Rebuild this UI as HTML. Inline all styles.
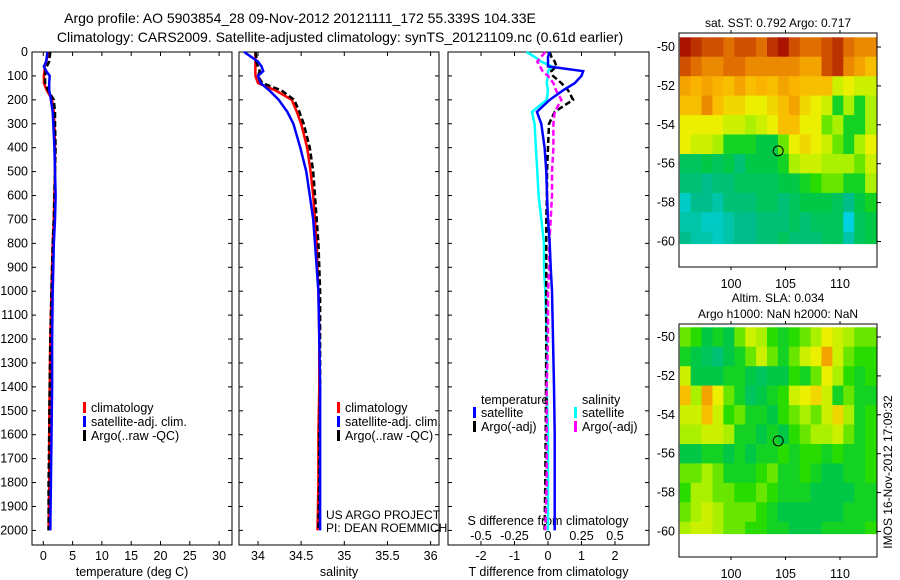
<!DOCTYPE html>
<html><head><meta charset="utf-8"><style>
html,body{margin:0;padding:0;background:#fff;}
svg{display:block;font-family:"Liberation Sans",sans-serif;}
</style></head><body>
<svg id="fig" width="900" height="580" viewBox="0 0 900 580">
<text x="300" y="23" font-size="14" text-anchor="middle">Argo profile: AO 5903854_28 09-Nov-2012 20121111_172 55.339S 104.33E</text>
<text x="340" y="42" font-size="14" text-anchor="middle">Climatology: CARS2009. Satellite-adjusted climatology: synTS_20121109.nc (0.61d earlier)</text>
<g id="g"></g>
</svg>
<script>
// ---- profile data (depth in m) ----
const tDepth = [0,20,40,60,80,100,130,160,200,250,300,400,500,600,700,800,900,1000,1200,1400,1600,1800,2000];
const tClim  = [0.8,0.7,0.5,0.2,0.2,0.1,0.1,0.6,1.5,1.8,1.9,2.0,2.0,1.9,1.8,1.6,1.5,1.4,1.2,1.1,1.0,1.0,0.9];
const tSat   = [0.7,0.6,0.5,0.1,0.5,1.1,1.0,1.0,1.3,1.6,1.7,1.9,2.0,2.1,2.0,1.8,1.7,1.6,1.5,1.5,1.4,1.3,1.2];
const tArgo  = [1.2,1.1,1.0,0.6,0.4,0.3,0.3,0.8,1.8,2.0,2.0,2.1,2.0,1.9,1.8,1.6,1.5,1.4,1.2,1.1,1.0,0.9,0.9];
const sClim  = [33.97,33.97,33.97,33.97,33.97,33.97,34.0,34.2,34.39,34.45,34.50,34.57,34.61,34.64,34.66,34.68,34.69,34.70,34.71,34.71,34.70,34.70,34.69];
const sSat   = [33.84,33.92,34.0,34.04,34.06,34.0,34.03,34.13,34.24,34.34,34.41,34.49,34.56,34.60,34.64,34.66,34.68,34.70,34.71,34.72,34.72,34.72,34.72];
const sArgo  = [33.97,33.98,33.98,34.0,34.02,34.0,34.05,34.27,34.42,34.48,34.53,34.60,34.64,34.66,34.68,34.70,34.71,34.72,34.72,34.72,34.71,34.71,34.70];
const dTSat  = [0.05,0.0,0.0,0.0,1.05,1.0,0.8,0.45,0.05,-0.33,-0.2,-0.1,-0.05,-0.03,0.0,0.05,0.08,0.12,0.15,0.18,0.2,0.2,0.2];
const dTArgo = [0.05,0.1,0.2,0.25,0.1,0.15,0.4,0.6,0.75,0.2,0.03,0.0,-0.03,-0.03,-0.05,-0.05,-0.05,-0.05,-0.05,-0.06,-0.07,-0.08,-0.1];
const dSSat  = [-0.16,-0.1,-0.05,0.03,0.0,0.0,-0.01,0.0,-0.01,-0.12,-0.1,-0.09,-0.08,-0.07,-0.05,-0.03,-0.03,-0.02,-0.01,-0.01,0.0,0.0,0.0];
const dSArgo = [-0.02,-0.05,-0.08,-0.06,-0.04,0.0,0.04,0.06,0.1,0.05,0.04,0.04,0.03,0.03,0.02,0.01,0.01,0.0,0.0,-0.01,-0.01,-0.01,-0.02];
const depthTicks = [0,100,200,300,400,500,600,700,800,900,1000,1100,1200,1300,1400,1500,1600,1700,1800,1900,2000];
const tempTicks = [0,5,10,15,20,25,30];
const salTicks = [34,34.5,35,35.5,36];
const dTTicks = [-2,-1,0,1,2];
const dSTicks = [-0.5,-0.25,0,0.25,0.5];
// ---- map data (rows -50..-60, cols 95.5..112.5), 0..1 colour scale ----
const sstGrid = [
[1.0,.95,.9,.9,.85,.9,.9,.85,.95,1.0,.9,.85,.85,.9,.95,.85,.8,.8],
[.9,.85,.8,.8,.85,.85,.8,.8,.8,.8,.8,.75,.75,.9,.95,.8,.75,.7],
[.75,.72,.75,.72,.7,.75,.7,.72,.7,.75,.72,.7,.7,.7,.55,.6,.55,.55],
[.7,.7,.8,.7,.65,.65,.6,.6,.65,.7,.75,.65,.6,.55,.35,.5,.35,.5],
[.6,.6,.6,.6,.55,.55,.5,.55,.6,.7,.7,.6,.6,.45,.5,.35,.35,.5],
[.6,.55,.55,.5,.35,.35,.35,.3,.3,.45,.6,.65,.6,.55,.45,.35,.5,.6],
[.25,.25,.3,.25,.3,.2,.3,.3,.3,.35,.5,.55,.55,.5,.5,.5,.45,.55],
[.2,.2,.15,.2,.2,.25,.25,.25,.25,.3,.3,.35,.4,.45,.45,.35,.35,.5],
[.05,.15,.15,.1,.2,.2,.2,.25,.25,.2,.25,.3,.3,.3,.25,.15,.3,.35],
[.1,.1,.05,.05,.1,.15,.15,.2,.2,.2,.25,.2,.25,.25,.25,.0,.25,.3],
[.15,.1,.1,.05,.1,.15,.15,.2,.2,.25,.2,.2,.2,.25,.25,.1,.25,.3]];
const slaGrid = [
[.45,.4,.3,.35,.3,.45,.55,.5,.4,.35,.4,.45,.5,.6,.55,.5,.45,.45],
[.35,.3,.25,.2,.3,.35,.45,.55,.45,.35,.45,.55,.6,.75,.55,.45,.4,.4],
[.55,.3,.3,.3,.35,.35,.3,.25,.3,.3,.4,.35,.45,.6,.5,.4,.35,.4],
[.7,.5,.75,.6,.45,.35,.25,.3,.35,.4,.55,.6,.65,.55,.35,.45,.35,.35],
[.55,.55,.7,.55,.4,.45,.35,.35,.3,.4,.45,.5,.45,.55,.65,.5,.35,.4],
[.5,.5,.55,.55,.5,.35,.35,.3,.35,.3,.4,.45,.5,.5,.55,.45,.35,.4],
[.3,.3,.35,.35,.3,.35,.3,.35,.35,.4,.35,.4,.4,.35,.4,.35,.35,.4],
[.45,.45,.5,.45,.35,.35,.35,.4,.45,.35,.35,.4,.35,.3,.3,.35,.35,.4],
[.4,.5,.5,.45,.45,.4,.4,.45,.4,.35,.35,.35,.3,.3,.3,.3,.35,.35],
[.45,.5,.55,.5,.45,.45,.45,.4,.35,.3,.3,.3,.3,.3,.3,.35,.35,.35],
[.5,.55,.55,.5,.45,.45,.4,.4,.35,.35,.3,.3,.3,.35,.35,.35,.35,.4]];
const mapLat = [-50,-51,-52,-53,-54,-55,-56,-57,-58,-59,-60];
const mapLon0 = 95.3, mapLonStep = 1.0;
const argoLon = 104.33, argoLat = -55.339;
const latTicks = [-50,-52,-54,-56,-58,-60];
const lonTicks = [100,105,110];

const NS="http://www.w3.org/2000/svg";
const G=document.getElementById('g');
function el(tag,attrs,parent,txt){const e=document.createElementNS(NS,tag);for(const k in attrs)e.setAttribute(k,attrs[k]);if(txt!==undefined)e.textContent=txt;(parent||G).appendChild(e);return e;}

const yTop=52, pxPer100=23.92, yBot=545;
function yD(d){return yTop+d/100*pxPer100;}

function panel(name,x0,x1,xf,ticks,tickFmt,title){
  const g=el('g',{});
  
  
  el('rect',{x:x0,y:yTop,width:x1-x0,height:yBot-yTop,fill:'#fff',stroke:'#000','stroke-width':1},g);
  depthTicks.forEach(d=>{const y=yD(d);
    el('line',{x1:x0,x2:x0+4,y1:y,y2:y,stroke:'#000'},g);
    el('line',{x1:x1,x2:x1-4,y1:y,y2:y,stroke:'#000'},g);});
  ticks.forEach(v=>{const x=xf(v);
    el('line',{x1:x,x2:x,y1:yBot,y2:yBot-4,stroke:'#000'},g);
    el('line',{x1:x,x2:x,y1:yTop,y2:yTop+4,stroke:'#000'},g);
    if(tickFmt){const t=el('text',{x:x,y:yBot+15,'font-size':12.5,'text-anchor':'middle'},g,tickFmt(v));
    
    }});
  if(title){const t=el('text',{x:(x0+x1)/2,y:576,'font-size':12.5,'text-anchor':'middle'},g,title);
  
  }
  return g;
}
function line(g,xs,ds,xf,color,w,dash,name){
  const pts=xs.map((v,i)=>xf(v).toFixed(1)+','+yD(ds[i]).toFixed(1)).join(' ');
  const p=el('polyline',{points:pts,fill:'none',stroke:color,'stroke-width':w},g);
  if(dash)p.setAttribute('stroke-dasharray',dash);
  
  
}
function legend(g,x,y,items){
  items.forEach((it,i)=>{
    const yy=y+i*14;
    el('rect',{x:x,y:yy-10,width:3,height:11,fill:it[1]},g);
    const t=el('text',{x:x+8,y:yy,'font-size':12.5},g,it[0]);
    
    
  });
}

depthTicks.forEach(d=>{const t=el('text',{x:28,y:yD(d)+4,'font-size':12.5,'text-anchor':'end'},G,String(d));

});

const xT=v=>43.3+v*5.86;
const p1=panel('temperature-panel',32,232,xT,tempTicks,v=>String(v),'temperature (deg C)');
line(p1,tClim,tDepth,xT,'#f00',2.5,null,'temp-climatology-line');
line(p1,tArgo,tDepth,xT,'#000',2.5,'6 3','temp-argo-line');
line(p1,tSat,tDepth,xT,'#00f',2.5,null,'temp-satellite-line');
legend(p1,83,412,[['climatology','#f00'],['satellite-adj. clim.','#00f'],['Argo(..raw -QC)','#000']]);

const xS=v=>258+(v-34)*86.3;
const p2=panel('salinity-panel',239,439,xS,salTicks,v=>String(v),'salinity');
line(p2,sClim,tDepth,xS,'#f00',2.5,null,'sal-climatology-line');
line(p2,sArgo,tDepth,xS,'#000',2.5,'6 3','sal-argo-line');
line(p2,sSat,tDepth,xS,'#00f',2.5,null,'sal-satellite-line');
legend(p2,337,412,[['climatology','#f00'],['satellite-adj. clim.','#00f'],['Argo(..raw -QC)','#000']]);
el('text',{x:326,y:519,'font-size':12},p2,'US ARGO PROJECT');
el('text',{x:326,y:532,'font-size':12},p2,'PI: DEAN ROEMMICH');

const xDT=v=>548+v*33.5;
const xDS=v=>548+v*134;
const p3=panel('difference-panel',448,649,xDT,dTTicks,v=>String(v),'T difference from climatology');
dSTicks.forEach(v=>{const t=el('text',{x:xDS(v),y:540,'font-size':12.5,'text-anchor':'middle'},p3,String(v));

});
el('text',{x:548,y:525,'font-size':12.5,'text-anchor':'middle'},p3,'S difference from climatology');
line(p3,dSSat,tDepth,xDS,'#0ff',2.5,null,'dsal-satellite-line');
line(p3,dTArgo,tDepth,xDT,'#000',2.5,'6 3','dtemp-argo-line');
line(p3,dSArgo,tDepth,xDS,'#f0f',2.5,'6 3','dsal-argo-line');
line(p3,dTSat,tDepth,xDT,'#00f',2.5,null,'dtemp-satellite-line');
el('text',{x:481,y:404,'font-size':12.5},p3,'temperature');
el('text',{x:582,y:404,'font-size':12.5},p3,'salinity');
legend(p3,473,417,[['satellite','#00f'],['Argo(-adj)','#000']]);
legend(p3,574,417,[['satellite','#0ff'],['Argo(-adj)','#f0f']]);

const cmStops=[[0,[0,210,225]],[0.15,[0,190,140]],[0.3,[0,200,70]],[0.4,[40,220,0]],[0.5,[170,240,0]],[0.6,[235,240,0]],[0.72,[250,180,0]],[0.85,[225,110,0]],[1,[170,20,0]]];
function cmap(v){for(let i=1;i<cmStops.length;i++){if(v<=cmStops[i][0]){const a=cmStops[i-1],b=cmStops[i];const f=(v-a[0])/(b[0]-a[0]);const c=a[1].map((x,k)=>Math.round(x+(b[1][k]-x)*f));return 'rgb('+c.join(',')+')';}}return 'rgb(170,20,0)';}

function mapPanel(name,top,bottom,latRef,grid,titles){
  const L=679,R=877;
  const xL=lon=>731+(lon-100)*10.9;
  const yL=lat=>latRef+(-50-lat)*19.45;
  const g=el('g',{});
  
  
  el('rect',{x:L,y:top,width:R-L,height:bottom-top,fill:'#fff'},g);
  grid.forEach((row,r)=>{row.forEach((v,c)=>{
    const lat=mapLat[r];
    const ya=Math.max(top,yL(lat+0.5)), yb=Math.min(yL(-60.1),yL(lat-0.5));
    const xa=xL(mapLon0+c*mapLonStep), xb=Math.min(R,xL(mapLon0+(c+1)*mapLonStep));
    const cell=el('rect',{x:xa.toFixed(1),y:ya.toFixed(1),width:(xb-xa+0.6).toFixed(1),height:(yb-ya+0.6).toFixed(1),fill:cmap(v)},g);
    
    
  });});
  el('rect',{x:L,y:top,width:R-L,height:bottom-top,fill:'none',stroke:'#000'},g);
  latTicks.forEach(la=>{const y=yL(la);
    el('line',{x1:R,x2:R+4,y1:y,y2:y,stroke:'#000'},g);
    const t=el('text',{x:L-4,y:y+4,'font-size':12.5,'text-anchor':'end'},g,String(la));
    
    });
  lonTicks.forEach(lo=>{const x=xL(lo);
    el('line',{x1:x,x2:x,y1:bottom,y2:bottom+3,stroke:'#000'},g);
    el('line',{x1:x,x2:x,y1:top,y2:top-3,stroke:'#000'},g);
    const t=el('text',{x:x,y:bottom+21,'font-size':12.5,'text-anchor':'middle'},g,String(lo));
    
    });
  const c=el('circle',{cx:xL(argoLon),cy:yL(argoLat),r:5,fill:'none',stroke:'#000','stroke-width':1},g);
  
  
  titles.forEach((tt,i)=>{const t=el('text',{x:778,y:top-(titles.length-1-i)*16-6,'font-size':12,'text-anchor':'middle'},g,tt);
    
    });
}
mapPanel('sst-map',33,267,47,sstGrid,['sat. SST: 0.792 Argo: 0.717']);
mapPanel('sla-map',324,557,337,slaGrid,['Altim. SLA: 0.034','Argo h1000: NaN h2000: NaN']);
const ts=el('text',{x:0,y:0,'font-size':12,'text-anchor':'middle',transform:'translate(892,472) rotate(-90)'},G,'IMOS 16-Nov-2012 17:09:32');


</script>
</body></html>
